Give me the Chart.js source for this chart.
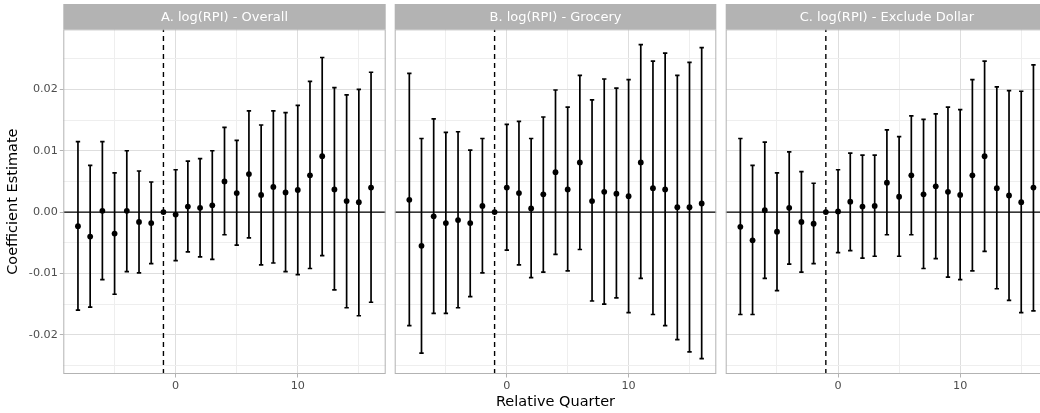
<!DOCTYPE html>
<html><head><meta charset="utf-8">
<script src="https://cdn.jsdelivr.net/npm/chart.js@4"></script>
<style>
html,body{margin:0;padding:0;background:#fff;overflow:hidden;width:1040px;height:413px;}
#wrap{position:relative;width:1040px;height:413px;overflow:hidden;}
canvas{position:absolute;top:0;}
</style></head><body>
<div id="wrap">
<canvas id="cA" width="390" height="413" style="left:0px"></canvas>
<canvas id="cB" width="330" height="413" style="left:390px"></canvas>
<canvas id="cC" width="335" height="413" style="left:720px"></canvas>
</div>
<script>
// ---------- data ----------
const quarters = [-8,-7,-6,-5,-4,-3,-2,-1,0,1,2,3,4,5,6,7,8,9,10,11,12,13,14,15,16];
const eventQuarter = -1;

const panelTitles = ["A. log(RPI) - Overall", "B. log(RPI) - Grocery", "C. log(RPI) - Exclude Dollar"];

const estA  = [-0.0023,-0.0040,0.0002,-0.0035,0.0002,-0.0016,-0.0018,0,-0.0004,0.0009,0.0007,0.0011,0.0050,0.0031,0.0062,0.0028,0.0041,0.0032,0.0036,0.0060,0.0091,0.0037,0.0018,0.0016,0.0040];
const lowA  = [-0.0160,-0.0155,-0.0110,-0.0134,-0.0097,-0.0099,-0.0084,0,-0.0079,-0.0065,-0.0073,-0.0077,-0.0037,-0.0054,-0.0042,-0.0086,-0.0083,-0.0097,-0.0102,-0.0092,-0.0071,-0.0127,-0.0156,-0.0169,-0.0147];
const highA = [0.0115,0.0076,0.0115,0.0064,0.0100,0.0067,0.0049,0,0.0069,0.0083,0.0087,0.0100,0.0138,0.0117,0.0165,0.0142,0.0165,0.0162,0.0174,0.0213,0.0252,0.0203,0.0191,0.0200,0.0228];

const estB  = [0.0020,-0.0055,-0.0007,-0.0018,-0.0013,-0.0018,0.0010,0,0.0040,0.0031,0.0006,0.0029,0.0065,0.0037,0.0081,0.0018,0.0033,0.0030,0.0026,0.0081,0.0039,0.0037,0.0008,0.0008,0.0014];
const lowB  = [-0.0185,-0.0230,-0.0165,-0.0165,-0.0156,-0.0138,-0.0099,0,-0.0062,-0.0086,-0.0107,-0.0098,-0.0069,-0.0096,-0.0061,-0.0145,-0.0150,-0.0140,-0.0164,-0.0108,-0.0167,-0.0185,-0.0208,-0.0228,-0.0239];
const highB = [0.0226,0.0120,0.0152,0.0130,0.0131,0.0101,0.0120,0,0.0143,0.0148,0.0120,0.0155,0.0199,0.0171,0.0223,0.0183,0.0217,0.0202,0.0216,0.0273,0.0246,0.0259,0.0223,0.0244,0.0268];

const estC  = [-0.0024,-0.0046,0.0003,-0.0032,0.0007,-0.0016,-0.0019,0,0.0001,0.0017,0.0009,0.0010,0.0048,0.0025,0.0060,0.0029,0.0042,0.0033,0.0028,0.0060,0.0091,0.0039,0.0027,0.0016,0.0040];
const lowC  = [-0.0167,-0.0167,-0.0108,-0.0128,-0.0085,-0.0098,-0.0084,0,-0.0066,-0.0063,-0.0075,-0.0072,-0.0037,-0.0072,-0.0037,-0.0092,-0.0076,-0.0106,-0.0110,-0.0096,-0.0064,-0.0125,-0.0144,-0.0164,-0.0161];
const highC = [0.0120,0.0076,0.0114,0.0064,0.0098,0.0066,0.0047,0,0.0069,0.0096,0.0093,0.0093,0.0134,0.0123,0.0157,0.0151,0.0160,0.0171,0.0167,0.0216,0.0246,0.0204,0.0198,0.0197,0.0240];

const xTickVals = [-5, 0, 5, 10, 15];
const xLabelVals = [0, 10];
const yTickVals = [-0.025,-0.02,-0.015,-0.01,-0.005,0,0.005,0.01,0.015,0.02,0.025];
const xTitle = "Relative Quarter";
const yTitle = "Coefficient Estimate";

// ---------- style ----------
const FONT = "'DejaVu Sans', 'Liberation Sans', sans-serif";
Chart.defaults.font.family = FONT;
const GRID_MAJOR = '#dedede', GRID_MINOR = '#eeeeee', BORDER = '#b3b3b3';
const isMajorY = v => Math.abs(Math.round(v * 100) - v * 100) < 1e-6;
const isMajorX = v => xLabelVals.includes(v);

const panelPlugin = {
  id: 'panelDeco',
  beforeDatasetsDraw(chart) {
    const {ctx, chartArea: a, scales: {x, y}} = chart;
    ctx.save();
    ctx.beginPath(); ctx.rect(a.left, a.top, a.right - a.left, a.bottom - a.top); ctx.clip();
    // horizontal zero line
    const y0 = y.getPixelForValue(0);
    ctx.strokeStyle = '#000'; ctx.lineWidth = 1.3;
    ctx.beginPath(); ctx.moveTo(a.left, y0); ctx.lineTo(a.right, y0); ctx.stroke();
    // vertical dashed event line
    const xv = x.getPixelForValue(eventQuarter);
    ctx.lineWidth = 1.4;
    ctx.setLineDash([5, 4]);
    ctx.beginPath(); ctx.moveTo(xv, a.bottom); ctx.lineTo(xv, a.top); ctx.stroke();
    ctx.setLineDash([]);
    // error bars
    ctx.strokeStyle = '#000'; ctx.lineWidth = 1.7;
    chart.data.datasets.forEach(ds => {
      ds.data.forEach((p, i) => {
        const lo = ds.errLow[i], hi = ds.errHigh[i];
        if (lo === hi) return;
        const px = x.getPixelForValue(p.x);
        const pl = y.getPixelForValue(lo), ph = y.getPixelForValue(hi);
        ctx.beginPath();
        ctx.moveTo(px, pl); ctx.lineTo(px, ph);
        ctx.moveTo(px - 2.2, pl); ctx.lineTo(px + 2.2, pl);
        ctx.moveTo(px - 2.2, ph); ctx.lineTo(px + 2.2, ph);
        ctx.stroke();
      });
    });
    ctx.restore();
  },
  afterDraw(chart) {
    const {ctx, chartArea: a} = chart;
    ctx.save();
    ctx.strokeStyle = BORDER; ctx.lineWidth = 1;
    ctx.strokeRect(a.left + 0.5, a.top + 0.5, a.right - a.left - 1, a.bottom - a.top - 1);
    // strip
    const top = 4;
    ctx.fillStyle = BORDER;
    ctx.fillRect(a.left, top, a.right - a.left, a.top - top);
    ctx.fillStyle = '#ffffff';
    ctx.font = "13px " + FONT;
    ctx.textAlign = 'center'; ctx.textBaseline = 'middle';
    ctx.fillText(chart.options.plugins.panelDeco.strip, (a.left + a.right) / 2, (top + a.top) / 2 + 0.5);
    ctx.restore();
  }
};

function makePanel(id, title, est, low, high, o) {
  return new Chart(document.getElementById(id), {
    type: 'scatter',
    data: {
      datasets: [{
        data: quarters.map((q, i) => ({x: q, y: est[i]})),
        errLow: low, errHigh: high,
        backgroundColor: '#000', borderWidth: 0, pointRadius: 2.9, pointHoverRadius: 2.9
      }]
    },
    options: {
      responsive: false, animation: false, devicePixelRatio: 1,
      layout: {padding: {top: 29.3, right: o.padRight, left: 0, bottom: 0}},
      plugins: {legend: {display: false}, tooltip: {enabled: false}, panelDeco: {strip: title}},
      scales: {
        x: {
          type: 'linear', min: -9.2, max: 17.2,
          afterBuildTicks: s => { s.ticks = xTickVals.map(v => ({value: v})); },
          afterFit: s => { s.height = 39; },
          ticks: {callback: v => isMajorX(v) ? String(v) : '', color: '#4d4d4d',
                  font: {size: 11.2}, padding: 2, maxRotation: 0, autoSkip: false},
          grid: {color: c => isMajorX(c.tick.value) ? GRID_MAJOR : GRID_MINOR,
                 lineWidth: 1,
                 tickColor: c => isMajorX(c.tick.value) ? BORDER : 'rgba(0,0,0,0)',
                 tickLength: 3.5},
          border: {display: false},
          title: {display: o.showXTitle, text: xTitle, color: '#000',
                  font: {size: 14.5}, padding: {top: 0, bottom: 2.5}}
        },
        y: {
          type: 'linear', min: -0.0264, max: 0.0298,
          afterBuildTicks: s => { s.ticks = yTickVals.map(v => ({value: v})); },
          afterFit: s => { s.width = o.yWidth; },
          ticks: {display: o.showY, callback: v => isMajorY(v) ? v.toFixed(2) : '', color: '#4d4d4d',
                  font: {size: 11.2}, padding: 2, autoSkip: false},
          grid: {color: c => isMajorY(c.tick.value) ? GRID_MAJOR : GRID_MINOR,
                 lineWidth: 1, drawTicks: o.showY,
                 tickColor: c => isMajorY(c.tick.value) ? BORDER : 'rgba(0,0,0,0)',
                 tickLength: 3.5},
          border: {display: false},
          title: {display: o.showY, text: yTitle, color: '#000',
                  font: {size: 14.5}, padding: {top: 5, bottom: 0}}
        }
      }
    },
    plugins: [panelPlugin]
  });
}

makePanel('cA', panelTitles[0], estA, lowA, highA, {padRight: 4.3, yWidth: 63.3, showY: true, showXTitle: false});
makePanel('cB', panelTitles[1], estB, lowB, highB, {padRight: 3.7, yWidth: 4.7, showY: false, showXTitle: true});
makePanel('cC', panelTitles[2], estC, lowC, highC, {padRight: 6.9, yWidth: 5.7, showY: false, showXTitle: false});
</script>
</body></html>
